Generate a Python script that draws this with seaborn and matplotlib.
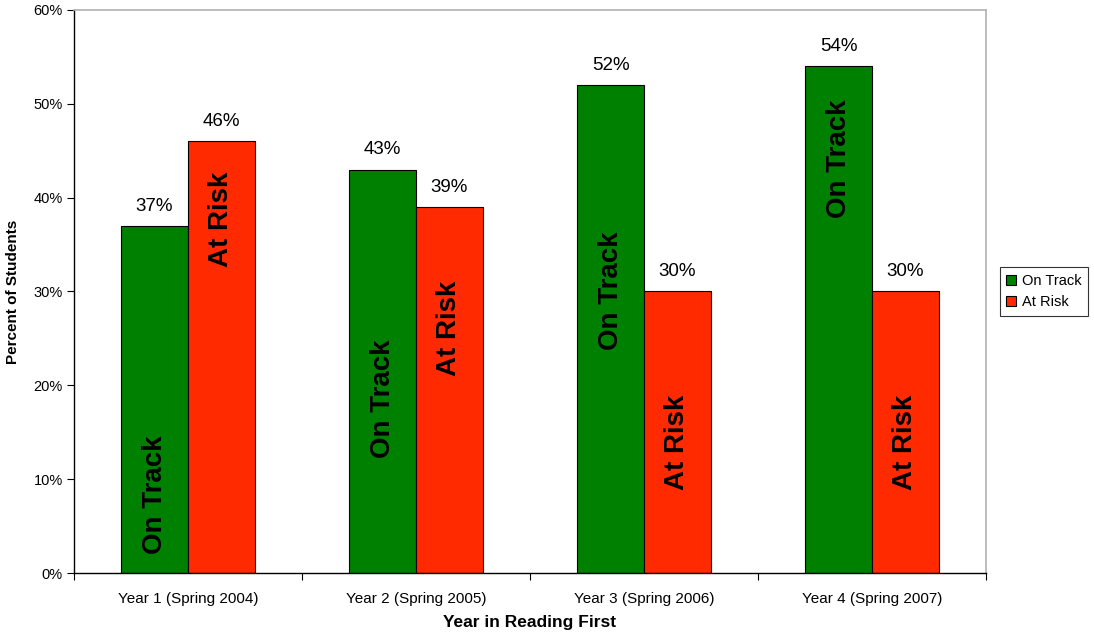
import matplotlib
matplotlib.use("Agg")
import matplotlib.pyplot as plt
import seaborn as sns
import pandas as pd
from matplotlib.ticker import FuncFormatter, FixedLocator

categories = ["Year 1 (Spring 2004)", "Year 2 (Spring 2005)", "Year 3 (Spring 2006)", "Year 4 (Spring 2007)"]
on_track = [37, 43, 52, 54]
at_risk = [46, 39, 30, 30]
series = ["On Track", "At Risk"]
# in-bar label vertical centres (percent)
on_track_label_y = [8.4, 18.6, 30.1, 44.1]
at_risk_label_y = [37.7, 26.1, 13.9, 13.9]

sns.set_theme(style="white")
plt.rcParams['font.family'] = ['Liberation Sans', 'DejaVu Sans']
plt.rcParams['text.color'] = 'black'
plt.rcParams['axes.labelcolor'] = 'black'
plt.rcParams['xtick.color'] = 'black'
plt.rcParams['ytick.color'] = 'black'

df = pd.DataFrame({
    "Year": categories * 2,
    "Series": [series[0]] * 4 + [series[1]] * 4,
    "Value": on_track + at_risk,
})

fig = plt.figure(figsize=(10.94, 6.35), dpi=100)
ax = fig.add_axes([0.0676, 0.0976, 0.8337, 0.8867])

palette = {"On Track": "#008000", "At Risk": "#FF2A00"}
sns.barplot(data=df, x="Year", y="Value", hue="Series", palette=palette,
            width=0.587, edgecolor="black", linewidth=0.8, saturation=1,
            ax=ax, legend=True)

ax.set_ylim(0, 60)
ax.set_xlim(-0.5, 3.5)
ax.yaxis.set_major_locator(FixedLocator(range(0, 61, 10)))
ax.yaxis.set_major_formatter(FuncFormatter(lambda v, p: f"{int(v)}%"))
ax.tick_params(axis='y', which='major', direction='out', length=5, width=0.8,
               color='black', labelcolor='black', labelsize=10.5, left=True, pad=3)
ax.tick_params(axis='x', which='major', length=0, labelsize=11, labelcolor='black', pad=14)
ax.set_xticks(range(4))
ax.set_xticklabels(categories)
ax.xaxis.set_minor_locator(FixedLocator([-0.5, 0.5, 1.5, 2.5, 3.5]))
ax.tick_params(axis='x', which='minor', direction='out', length=5, width=0.8,
               color='black', bottom=True)

for side in ["left", "bottom"]:
    ax.spines[side].set_color("black")
    ax.spines[side].set_linewidth(1.0)
for side in ["top", "right"]:
    ax.spines[side].set_color("#b0b0b0")
    ax.spines[side].set_linewidth(1.2)

ax.set_ylabel("Percent of Students", fontsize=11, fontweight="bold", labelpad=10, color="black")
ax.set_xlabel("Year in Reading First", fontsize=12.5, fontweight="bold", labelpad=6, color="black")

# value labels and in-bar labels
containers = ax.containers
for cont, vals, lab, ys in zip(containers, [on_track, at_risk], series,
                               [on_track_label_y, at_risk_label_y]):
    for rect, v, ly in zip(cont, vals, ys):
        cx = rect.get_x() + rect.get_width() / 2
        ax.text(cx, v + 1.2, f"{v}%", ha="center", va="bottom", fontsize=13.5, color="black")
        ax.text(cx, ly, lab, rotation=90, ha="center", va="center",
                fontsize=20, fontweight="bold", color="black")

leg = ax.legend(loc="center left", bbox_to_anchor=(1.015, 0.5), frameon=True,
                fontsize=10.5, handlelength=0.7, handleheight=0.7,
                handletextpad=0.4, borderpad=0.45, labelspacing=0.5,
                borderaxespad=0, fancybox=False, edgecolor="black", title=None)
leg.get_frame().set_linewidth(0.8)
for t in leg.get_texts():
    t.set_color("black")

fig.savefig("out.png", dpi=100)
